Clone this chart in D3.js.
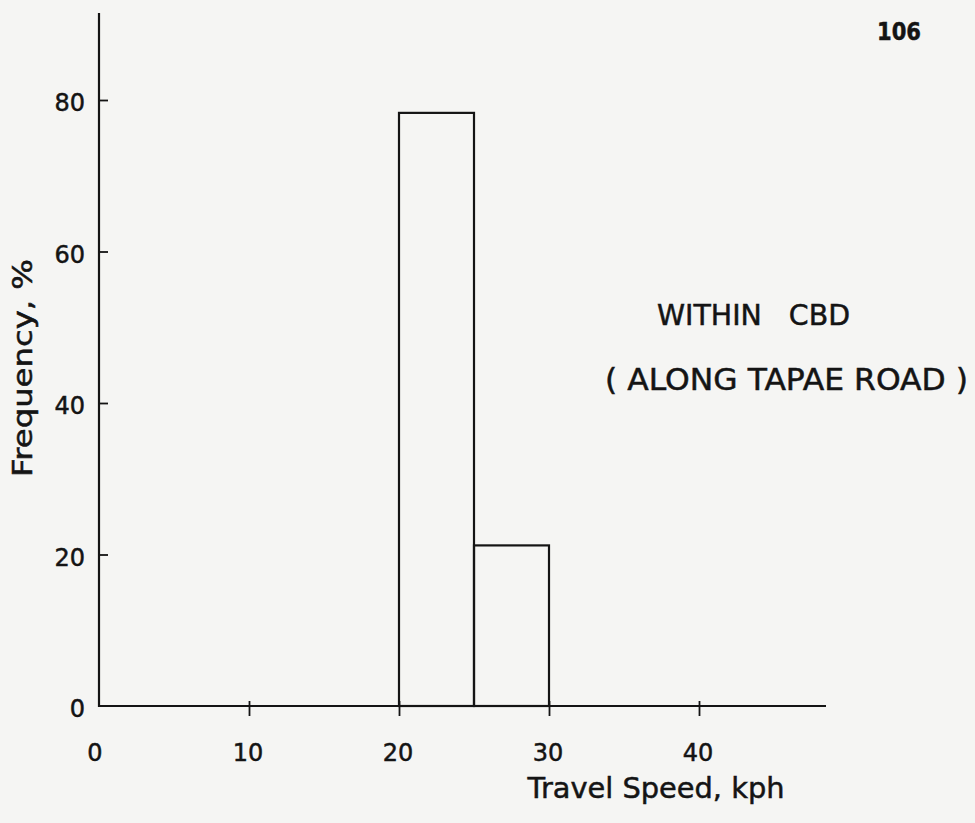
<!DOCTYPE html>
<html>
<head>
<meta charset="utf-8">
<script src="https://cdn.jsdelivr.net/npm/d3@7"></script>
<style>
  html, body { margin: 0; padding: 0; background: #f5f5f3; }
  svg { display: block; }
  text { font-family: "DejaVu Sans", "Open Sans", sans-serif; fill: #141414; stroke: #141414; stroke-width: 0.5px; white-space: pre; }
</style>
</head>
<body>
<svg id="chart" width="975" height="823"></svg>
<script>
// ---- data ----
const binStarts = [20, 25];          // kph, lower edge of each class
const binEnds   = [25, 30];          // kph, upper edge of each class
const frequency = [78.3, 21.2];      // percent
const xTicks = [0, 10, 20, 30, 40];
const yTicks = [0, 20, 40, 60, 80];
const xTitle = "Travel Speed, kph";
const yTitle = "Frequency, %";
const noteLines = ["WITHIN   CBD", "( ALONG TAPAE ROAD )"];
const pageNumber = "106";

// ---- layout ----
const svg = d3.select("#chart");
const ink = "#141414";

const x = d3.scaleLinear().domain([0, 40]).range([99, 699]);
const y = d3.scaleLinear().domain([0, 80]).range([706, 100]);
const xMax = x.invert(826);
const yMax = y.invert(13);

// bars
svg.append("g").selectAll("rect")
  .data(frequency.map((f, i) => ({ a: binStarts[i], b: binEnds[i], f })))
  .join("rect")
  .attr("x", d => x(d.a))
  .attr("y", d => y(d.f))
  .attr("width", d => x(d.b) - x(d.a))
  .attr("height", d => y(0) - y(d.f))
  .attr("fill", "none")
  .attr("stroke", ink)
  .attr("stroke-width", 2.2);

// x axis
const xAxis = d3.axisBottom(x)
  .tickValues(xTicks.filter(t => t > 0))
  .tickSize(0)
  .tickFormat("");
const gx = svg.append("g").attr("transform", `translate(0,${y(0)})`).call(xAxis);
gx.select(".domain").remove();
gx.append("line")
  .attr("x1", x(0)).attr("x2", x(xMax))
  .attr("stroke", ink).attr("stroke-width", 2.2);
gx.selectAll(".tick line")
  .attr("y1", -5).attr("y2", 10)
  .attr("stroke", ink).attr("stroke-width", 1.8);

// x tick labels
svg.append("g").selectAll("text")
  .data(xTicks)
  .join("text")
  .attr("x", d => x(d) - (d === 0 ? 4 : 1))
  .attr("y", 761)
  .attr("text-anchor", "middle")
  .attr("font-size", 24)
  .text(d => d);

// y axis
const yAxis = d3.axisRight(y)
  .tickValues(yTicks.filter(t => t > 0))
  .tickSize(0)
  .tickFormat("");
const gy = svg.append("g").attr("transform", `translate(${x(0)},0)`).call(yAxis);
gy.select(".domain").remove();
gy.append("line")
  .attr("y1", y(0) + 1).attr("y2", y(yMax))
  .attr("stroke", ink).attr("stroke-width", 2.2);
gy.selectAll(".tick line")
  .attr("x1", 0).attr("x2", 9)
  .attr("stroke", ink).attr("stroke-width", 1.8);

// y tick labels
svg.append("g").selectAll("text")
  .data(yTicks)
  .join("text")
  .attr("x", 85)
  .attr("y", d => y(d) + 11)
  .attr("text-anchor", "end")
  .attr("font-size", 24)
  .text(d => d);

// axis titles
svg.append("text")
  .attr("x", 656).attr("y", 798)
  .attr("text-anchor", "middle")
  .attr("font-size", 28)
  .attr("textLength", 257)
  .attr("lengthAdjust", "spacingAndGlyphs")
  .text(xTitle);

svg.append("text")
  .attr("transform", "translate(32,368) rotate(-90)")
  .attr("text-anchor", "middle")
  .attr("font-size", 26)
  .attr("textLength", 218)
  .attr("lengthAdjust", "spacingAndGlyphs")
  .text(yTitle);

// annotation
svg.append("text")
  .attr("x", 657).attr("y", 325)
  .attr("font-size", 28)
  .attr("textLength", 193)
  .attr("lengthAdjust", "spacingAndGlyphs")
  .text(noteLines[0]);
svg.append("text")
  .attr("x", 605).attr("y", 390)
  .attr("font-size", 30)
  .attr("textLength", 363)
  .attr("lengthAdjust", "spacingAndGlyphs")
  .text(noteLines[1]);

// page number
svg.append("text")
  .attr("x", 877).attr("y", 40)
  .attr("font-size", 24)
  .attr("font-weight", "bold")
  .attr("textLength", 44)
  .attr("lengthAdjust", "spacingAndGlyphs")
  .text(pageNumber);
</script>
</body>
</html>
